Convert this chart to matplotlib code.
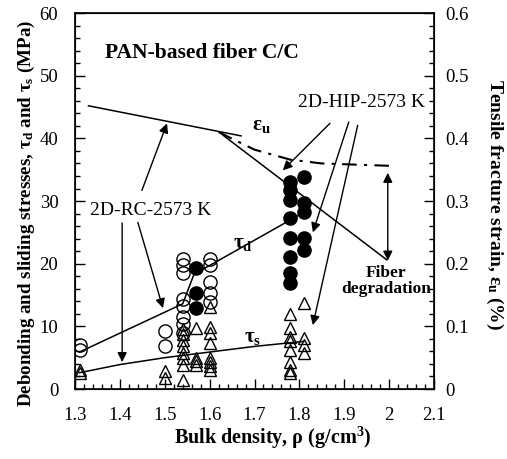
import matplotlib
matplotlib.use("Agg")
import matplotlib.pyplot as plt
import numpy as np

plt.rcParams['font.family'] = ['Liberation Serif', 'DejaVu Serif']
plt.rcParams['mathtext.fontset'] = 'custom'
plt.rcParams['mathtext.rm'] = 'Liberation Serif'
plt.rcParams['mathtext.it'] = 'Liberation Serif:italic'
plt.rcParams['mathtext.bf'] = 'Liberation Serif:bold'

# open circles: debonding stress, RC composites (density, MPa)
open_rho = [1.31] * 2 + [1.50] * 2 + [1.54] * 8 + [1.60] * 5
open_tau = [7.0, 6.3,
            9.3, 6.9,
            20.8, 19.8, 18.5, 14.3, 13.2, 11.5, 10.3, 9.0,
            20.8, 19.8, 17.0, 15.3, 13.9]

# filled circles: debonding stress, HIP composites
fill_rho = [1.57] * 3 + [1.78] * 8 + [1.81] * 5
fill_tau = [19.3, 15.4, 12.9,
            33.0, 31.7, 30.1, 27.3, 24.1, 21.1, 18.5, 16.9,
            33.8, 29.7, 28.2, 24.1, 22.2]

# open triangles: sliding stress
tri_rho = [1.31] * 2 + [1.50] * 2 + [1.54] * 8 + [1.57] * 4 + [1.60] * 8 + [1.78] * 8 + [1.81] * 4
tri_tau = [3.0, 2.5,
           2.9, 1.8,
           9.6, 8.8, 7.8, 6.9, 5.8, 4.9, 3.9, 1.5,
           9.7, 5.0, 4.4, 3.9,
           13.1, 9.9, 8.9, 7.4, 4.9, 4.3, 3.7, 3.1,
           11.9, 9.8, 8.3, 7.7, 6.2, 4.3, 3.1, 2.6,
           13.7, 8.1, 7.0, 5.8]

# trend lines
taud_rho = [1.31, 1.54, 1.565, 1.81]
taud_val = [5.9, 13.6, 18.3, 28.2]
taus_rho = [1.31, 1.40, 1.50, 1.60, 1.70, 1.81]
taus_val = [2.6, 3.9, 5.0, 5.9, 6.8, 7.6]

# fracture strain (%)
eps_rho = [1.33, 1.67]
eps_val = [0.452, 0.404]
eps_ideal_rho = [1.62, 1.70, 1.78, 1.85, 2.01]
eps_ideal_val = [0.410, 0.382, 0.366, 0.360, 0.356]
eps_degr_rho = [1.63, 1.995]
eps_degr_val = [0.405, 0.206]

x_ticks = [1.3, 1.4, 1.5, 1.6, 1.7, 1.8, 1.9, 2.0, 2.1]
x_labels = ['1.3', '1.4', '1.5', '1.6', '1.7', '1.8', '1.9', '2', '2.1']
y_ticks = [0, 10, 20, 30, 40, 50, 60]
y2_ticks = [0, 0.1, 0.2, 0.3, 0.4, 0.5, 0.6]
y2_labels = ['0', '0.1', '0.2', '0.3', '0.4', '0.5', '0.6']

fig = plt.figure(figsize=(5.07, 4.59), dpi=100)
ax = fig.add_axes([0.148, 0.1525, 0.708, 0.819])
ax2 = ax.twinx()

ax.plot(taud_rho, taud_val, color='black', lw=1.1, zorder=2)
ax.plot(taus_rho, taus_val, color='black', lw=1.1, zorder=2)
ax.plot(open_rho, open_tau, 'o', ms=9.5, mfc='none', mec='black', mew=1.0, zorder=3)
ax.plot(fill_rho, fill_tau, 'o', ms=9.5, mfc='black', mec='black', mew=1.0, zorder=3)
ax.plot(tri_rho, tri_tau, '^', ms=8.5, mfc='none', mec='black', mew=1.0, zorder=3)

ax2.plot(eps_rho, eps_val, color='black', lw=1.1)
ax2.plot(eps_degr_rho, eps_degr_val, color='black', lw=1.1)
ax2.plot(eps_ideal_rho, eps_ideal_val, color='black', lw=1.5, ls=(0, (7, 3.5, 1.5, 3.5)))

ax.set_xlim(1.3, 2.1)
ax.set_ylim(0, 60)
ax2.set_ylim(0, 0.6)

ax.set_xticks(x_ticks)
ax.set_xticklabels(x_labels)
ax.set_xticks(np.arange(1.3, 2.101, 0.02), minor=True)
ax.set_yticks(y_ticks)
ax.set_yticks(np.arange(0, 60.1, 2), minor=True)
ax2.set_yticks(y2_ticks)
ax2.set_yticklabels(y2_labels)
ax2.set_yticks(np.arange(0, 0.601, 0.02), minor=True)

ax.tick_params(which='both', direction='in', top=False, right=False, labelsize=13.5, width=1)
ax.tick_params(which='major', length=7)
ax.tick_params(which='minor', length=3.5)
ax.tick_params(axis='x', which='major', pad=13)
ax.tick_params(axis='y', which='major', pad=12)
ax2.tick_params(which='both', direction='in', labelsize=13.5, width=1)
ax2.tick_params(which='major', length=7, pad=8)
ax2.tick_params(which='minor', length=3.5)
for sp in ax.spines.values():
    sp.set_linewidth(1.2)

ax.set_xlabel(r'Bulk density, ρ (g/cm$^\mathbf{3}$)', fontsize=14.5, fontweight='bold',
              va='center')
ax.xaxis.set_label_coords(0.55, -0.13)
ax.set_ylabel(r'Debonding and sliding stresses, τ$_\mathbf{d}$ and τ$_\mathbf{s}$ (MPa)',
              fontsize=13.7, fontweight='bold', ha='center', va='center')
ax.yaxis.set_label_coords(-0.134, 0.468)
ax2.set_ylabel(r'Tensile fracture strain, ε$_\mathbf{u}$ (%)', fontsize=14, fontweight='bold',
               rotation=270, ha='center', va='center')
ax2.yaxis.set_label_coords(1.17, 0.49)

ax.text(1.367, 53.7, 'PAN-based fiber C/C', fontsize=15.5, fontweight='bold', va='center')
ax.text(1.716, 42.1, r'ε$_\mathbf{u}$', fontsize=15, fontweight='bold', ha='center', va='center')
ax.text(1.674, 23.3, r'τ$_\mathbf{d}$', fontsize=15, fontweight='bold', ha='center', va='center')
ax.text(1.696, 8.3, r'τ$_\mathbf{s}$', fontsize=15, fontweight='bold', ha='center', va='center')
ax.text(1.469, 28.5, '2D-RC-2573 K', fontsize=14, ha='center', va='center')
ax.text(1.939, 45.8, '2D-HIP-2573 K', fontsize=14, ha='center', va='center')
ax.text(1.993, 17.2, 'Fiber\ndegradation', fontsize=12.5, fontweight='bold',
        ha='center', va='center', linespacing=1.0)

arrow = dict(arrowstyle='-|>', color='black', lw=1.0, mutation_scale=14, shrinkA=0, shrinkB=0)
rc_arrows = [((1.449, 31.7), (1.505, 42.4)),
             ((1.405, 26.5), (1.405, 4.3)),
             ((1.440, 26.6), (1.496, 12.9))]
hip_arrows = [((1.868, 42.4), (1.763, 34.9)),
              ((1.910, 42.6), (1.830, 25.0)),
              ((1.930, 42.1), (1.830, 10.2))]
for tail, head in rc_arrows + hip_arrows:
    ax.annotate('', xy=head, xytext=tail, arrowprops=arrow, zorder=4)

ax2.annotate('', xy=(1.997, 0.205), xytext=(1.997, 0.345),
             arrowprops=dict(arrowstyle='<|-|>', color='black', lw=1.0, mutation_scale=14,
                             shrinkA=0, shrinkB=0))

fig.savefig('out.png', dpi=100)
